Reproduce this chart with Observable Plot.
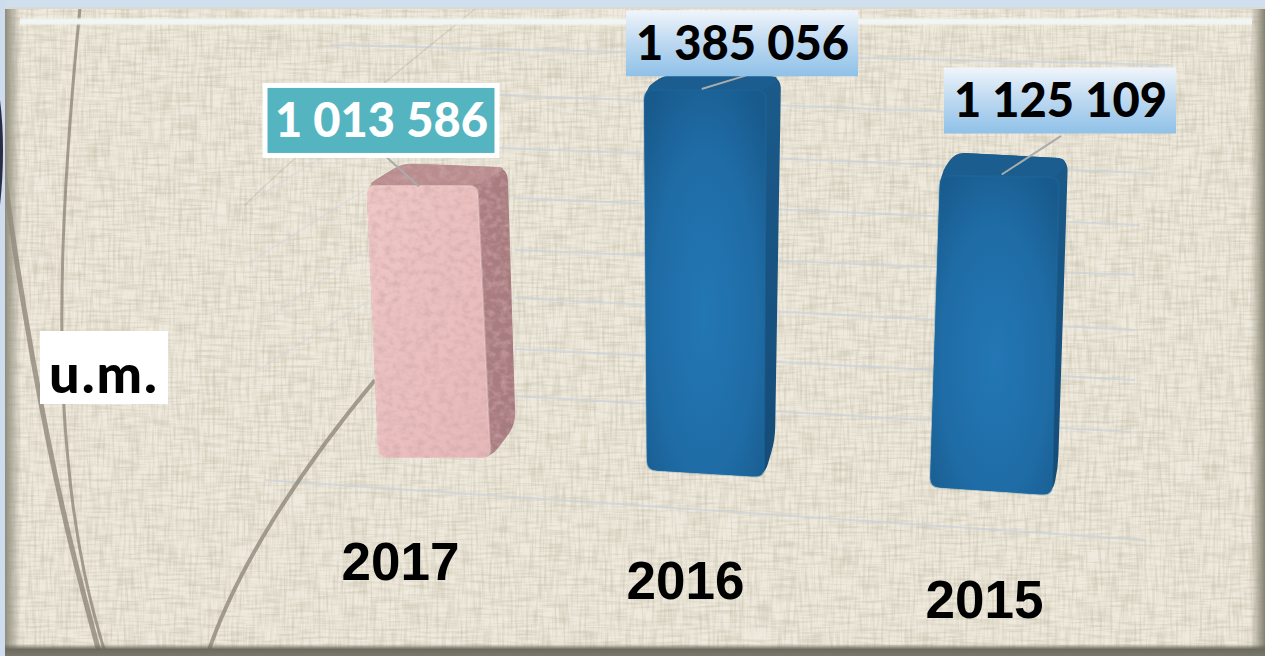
<!DOCTYPE html>
<html lang="fr">
<head>
<meta charset="utf-8">
<script src="https://cdn.jsdelivr.net/npm/d3@7"></script>
<script src="https://cdn.jsdelivr.net/npm/@observablehq/plot@0.6"></script>
<style>
html,body{margin:0;padding:0;width:1265px;height:656px;overflow:hidden;background:#cfdfee}
#bg,#chart{position:absolute;left:0;top:0;width:1265px;height:656px}
#chart svg{background:transparent;max-width:none}
#unit{position:absolute;left:40px;top:331px;width:128px;height:73px;background:#fff;color:#000;
  font:900 54px Lato,sans-serif;letter-spacing:2px;line-height:84px;text-align:center;white-space:nowrap}
.marble path{filter:url(#marble)}
</style>
</head>
<body>
<svg id="bg" width="1265" height="656" xmlns="http://www.w3.org/2000/svg">
  <defs>
    <filter id="threadH" x="0" y="0" width="100%" height="100%">
      <feTurbulence type="fractalNoise" baseFrequency="0.035 0.38" numOctaves="2" seed="4"/>
      <feColorMatrix values="0 0 0 0 .45  0 0 0 0 .41  0 0 0 0 .30  2.6 0 0 0 -1.05"/>
    </filter>
    <filter id="threadV" x="0" y="0" width="100%" height="100%">
      <feTurbulence type="fractalNoise" baseFrequency="0.38 0.035" numOctaves="2" seed="9"/>
      <feColorMatrix values="0 0 0 0 .45  0 0 0 0 .41  0 0 0 0 .30  2.6 0 0 0 -1.05"/>
    </filter>
    <linearGradient id="edgeL"><stop offset="0" stop-color="#8f8c7c"/><stop offset="1" stop-color="#8f8c7c" stop-opacity="0"/></linearGradient>
    <linearGradient id="edgeR"><stop offset="0" stop-color="#8f8c7c" stop-opacity="0"/><stop offset="1" stop-color="#84816f"/></linearGradient>
    <linearGradient id="edgeB" x2="0" y2="1"><stop offset="0" stop-color="#5e5c50" stop-opacity="0"/><stop offset=".45" stop-color="#6d6b5e"/><stop offset="1" stop-color="#7a786a"/></linearGradient>
    <linearGradient id="edgeT" x2="0" y2="1"><stop offset="0" stop-color="#f3f7f5" stop-opacity="0"/><stop offset=".3" stop-color="#f1f5f3"/><stop offset=".7" stop-color="#f1f5f3"/><stop offset="1" stop-color="#f3f7f5" stop-opacity="0"/></linearGradient>
  </defs>
  <rect x="5" y="8" width="1260" height="648" fill="#efeadd"/>
  <rect x="5" y="8" width="1260" height="648" filter="url(#threadH)" opacity=".3"/>
  <rect x="5" y="8" width="1260" height="648" filter="url(#threadV)" opacity=".3"/>
  <g fill="none" stroke="#c9d2dc" stroke-width="2" opacity=".7">
    <path d="M265 480L1145 540"/>
    <path d="M515 396L1130 432"/>
    <path d="M515 349L1135 380"/>
    <path d="M515 298L1135 330"/>
    <path d="M515 250L1135 275"/>
    <path d="M515 198L1140 225"/>
    <path d="M500 148L1150 173"/>
    <path d="M500 95L1165 120"/>
    <path d="M330 45L1170 65"/>
  </g>
  <g fill="none" stroke="#c9d2dc" stroke-width="1.5" opacity=".4">
    <path d="M245 205L365 130"/>
    <path d="M250 262L365 190"/>
    <path d="M258 370L370 300"/>
    <path d="M265 320L365 250"/>
  </g>
  <g fill="none" stroke="#8b8375" stroke-opacity=".75">
    <path d="M80 8C66 150 54 320 68 460C76 550 92 610 106 656" stroke-width="3"/>
    <path d="M0 140C18 290 46 440 70 540C82 590 92 625 100 656" stroke-width="5"/>
    <path d="M375 380C300 470 235 570 207 656" stroke-width="4"/>
    <path d="M480 5C400 70 300 150 245 205" stroke-width="1.5" stroke-opacity=".2"/>
  </g>
  <path d="M79 8L81 0" stroke="#222" stroke-width="2"/>
  <rect x="5" y="8" width="16" height="648" fill="url(#edgeL)"/>
  <rect x="1250" y="8" width="15" height="648" fill="url(#edgeR)"/>
  <rect x="20" y="17" width="1232" height="9" fill="url(#edgeT)"/>
  <rect x="5" y="644" width="1260" height="12" fill="url(#edgeB)"/>
  <rect x="0" y="0" width="1265" height="8" fill="#cfdfee"/>
  <rect x="0" y="7" width="1265" height="2" fill="#d9d9d6"/>
  <rect x="0" y="0" width="5" height="656" fill="#cfdcee"/>
  <path d="M0 100C4 130 4 170 0 205Z" fill="#2a2c44"/>
</svg>
<div id="chart"></div>
<div id="unit">u.m.</div>
<script>
const years = ["2017", "2016", "2015"];
const values = [1013586, 1385056, 1125109];
const valueLabels = ["1 013 586", "1 385 056", "1 125 109"];
const unitLabel = "u.m.";

const rows = years.map((year, i) => ({year, value: values[i], label: valueLabels[i]}));
const row = (year) => rows.filter((d) => d.year === year);

// Per-column drawing offsets (the picture's perspective shifts each column).
// corners: how far each corner of the column sits from the plain bar's own corners.
const look = {
  "2017": {base: -42, cx: 24, w: 113,
           corners: {tl: [-6, 9], tr: [-8, 9], bl: [6, 0], br: [5, 0], backL: [30, -13], backR: [22, -9], sideB: [30, -33]},
           lead: [13, 9, 44, -48],
           box: [-24, -98, 232, 70], text: "#fff", boxFill: "#54b5c1", boxStroke: "#fff",
           front: "url(#pinkFront)", top: "#b98c8e", side: "url(#pinkSide)", rim: "#f6e2de",
           tick: [-5, 63], cls: "marble"},
  "2016": {base: -25, cx: 10, w: 120,
           corners: {tl: [-1, 0], tr: [1, 0], bl: [2, -5], br: [-1, 2], backL: [18, -15], backR: [16, -14], sideB: [10, -35]},
           lead: [7, -2, 45, 73],
           box: [47, -72, 232, 66], text: "#000", boxFill: "url(#labelBlue)", boxStroke: "none",
           front: "url(#blueFront)", top: "#1b5d8e", side: "url(#blueSide)", rim: "#226fa8",
           tick: [-10, 82], cls: ""},
  "2015": {base: -7, cx: 10, w: 122,
           corners: {tl: [6, -5], tr: [3, -3], bl: [-4, -6], br: [-4, 2], backL: [21, -28], backR: [12, -22], sideB: [2, -25]},
           lead: [17, -7, 69, 57],
           box: [75, -87, 232, 66], text: "#000", boxFill: "url(#labelBlue)", boxStroke: "none",
           front: "url(#blueFront)", top: "#1b5d8e", side: "url(#blueSide)", rim: "#226fa8",
           tick: [-1, 101], cls: ""}
};

const bandWidth = 290;
const defs = () => {
  const g = document.createElementNS("http://www.w3.org/2000/svg", "defs");
  g.innerHTML = `
    <radialGradient id="blueFront" cx=".5" cy=".58" r=".7">
      <stop offset="0" stop-color="#2277b4"/><stop offset=".6" stop-color="#1f6ca6"/><stop offset="1" stop-color="#185a8c"/>
    </radialGradient>
    <linearGradient id="blueSide" x2="0" y2="1">
      <stop offset="0" stop-color="#1b5a8a"/><stop offset="1" stop-color="#154c78"/>
    </linearGradient>
    <linearGradient id="pinkFront" x2="1" y2="1">
      <stop offset="0" stop-color="#efc8c6"/><stop offset="1" stop-color="#e6b8b8"/>
    </linearGradient>
    <linearGradient id="pinkSide" x2="1" y2="0">
      <stop offset="0" stop-color="#b98b8e"/><stop offset="1" stop-color="#a67a7e"/>
    </linearGradient>
    <linearGradient id="labelBlue" x2="0" y2="1">
      <stop offset="0" stop-color="#f0f5fb"/><stop offset=".5" stop-color="#bcd8f0"/><stop offset="1" stop-color="#8fc1e8"/>
    </linearGradient>
    <filter id="marble" x="0" y="0" width="100%" height="100%">
      <feTurbulence type="fractalNoise" baseFrequency=".13 .17" numOctaves="4" seed="3" result="n"/>
      <feColorMatrix in="n" values="0 0 0 0 .62  0 0 0 0 .38  0 0 0 0 .40  1.3 0 0 0 -.5" result="m"/>
      <feComposite in="m" in2="SourceGraphic" operator="in" result="t"/>
      <feMerge><feMergeNode in="SourceGraphic"/><feMergeNode in="t"/></feMerge>
    </filter>`;
  return g;
};

// A closed polygon with its corners rounded by radius r.
const roundedPolygon = (pts, r) => {
  const n = pts.length;
  let d = "";
  pts.forEach((p, i) => {
    const toward = (q) => {
      const l = Math.hypot(q[0] - p[0], q[1] - p[1]);
      const t = Math.min(r, l / 2) / l;
      return [p[0] + (q[0] - p[0]) * t, p[1] + (q[1] - p[1]) * t];
    };
    const a = toward(pts[(i + n - 1) % n]);
    const b = toward(pts[(i + 1) % n]);
    d += `${i ? "L" : "M"}${a[0]} ${a[1]}Q${p[0]} ${p[1]} ${b[0]} ${b[1]}`;
  });
  return d + "Z";
};

// The bar goes through Plot's scales; the render step then turns its rectangle into faces.
const faces = (s) => (index, scales, values, dims, context, next) => {
  const g = next(index, scales, values, dims, context);
  const rect = g.querySelector("rect");
  const x0 = +rect.getAttribute("x"), y0 = +rect.getAttribute("y");
  const x1 = x0 + +rect.getAttribute("width"), y1 = y0 + +rect.getAttribute("height");
  const c = s.corners;
  const at = (base, off) => [base[0] + off[0], base[1] + off[1]];
  const tl = at([x0, y0], c.tl), tr = at([x1, y0], c.tr), bl = at([x0, y1], c.bl), br = at([x1, y1], c.br);
  const backL = at([x0, y0], c.backL), backR = at([x1, y0], c.backR), sideB = at([x1, y1], c.sideB);
  const add = (d, fill, stroke) => {
    const p = document.createElementNS("http://www.w3.org/2000/svg", "path");
    p.setAttribute("d", d);
    p.setAttribute("fill", fill);
    if (stroke) { p.setAttribute("stroke", stroke); p.setAttribute("stroke-width", 2); p.setAttribute("stroke-opacity", .3); }
    rect.parentNode.insertBefore(p, rect);
  };
  add(roundedPolygon([tl, backL, backR, sideB, br, bl], 13), s.side);
  add(roundedPolygon([tl, backL, backR, tr], 10), s.top);
  add(roundedPolygon([tl, tr, br, bl], 9), s.front, s.rim);
  rect.remove();
  return g;
};

const column = (year) => {
  const s = look[year];
  const inset = (bandWidth - s.w) / 2;
  return Plot.barY(row(year), {x: "year", y: "value", dx: s.cx, dy: s.base, className: s.cls || undefined,
    fill: s.top, insetLeft: inset, insetRight: inset, render: faces(s)});
};

const label = (year) => {
  const s = look[year];
  const [dx, dy, w, h] = s.box;
  const inset = (bandWidth - w) / 2;
  return [
    Plot.vector(row(year), {x: "year", y: "value", dx: s.lead[0], dy: s.base + s.lead[1],
      length: s.lead[2], rotate: s.lead[3], anchor: "start", stroke: "#a9acab", strokeWidth: 2,
      shape: {draw(c, l) { c.moveTo(0, 0); c.lineTo(0, -l); }}}),
    Plot.barY(row(year), {x: "year", y1: "value", y2: "value", dx, dy,
      insetLeft: inset, insetRight: inset, insetTop: -h / 2, insetBottom: -h / 2,
      fill: s.boxFill, stroke: s.boxStroke, strokeWidth: 5}),
    Plot.text(row(year), {x: "year", y: "value", text: "label", dx, dy: dy + 1,
      fill: s.text, fontFamily: "Lato", fontWeight: 900, fontSize: 47, textAnchor: "middle", lineAnchor: "middle"})
  ];
};

const tick = (year) => {
  const [dx, dy] = look[year].tick;
  return Plot.text(row(year), {x: "year", y: () => 0, text: "year", dx, dy,
    fill: "#000", fontFamily: "Liberation Sans", fontWeight: 700, fontSize: 53, lineAnchor: "middle"});
};

const plot = Plot.plot({
  width: 1265, height: 656,
  marginTop: 0, marginRight: 0, marginBottom: 0, marginLeft: 0,
  x: {type: "band", domain: years, range: [260, 1130], padding: 0, axis: null},
  y: {type: "linear", domain: [0, 1500000], range: [500, 83.33], axis: null},
  marks: [
    defs,
    ...years.map(column),
    ...years.flatMap(label),
    ...years.map(tick)
  ]
});
document.getElementById("chart").append(plot);
document.getElementById("unit").textContent = unitLabel;
</script>
</body>
</html>
